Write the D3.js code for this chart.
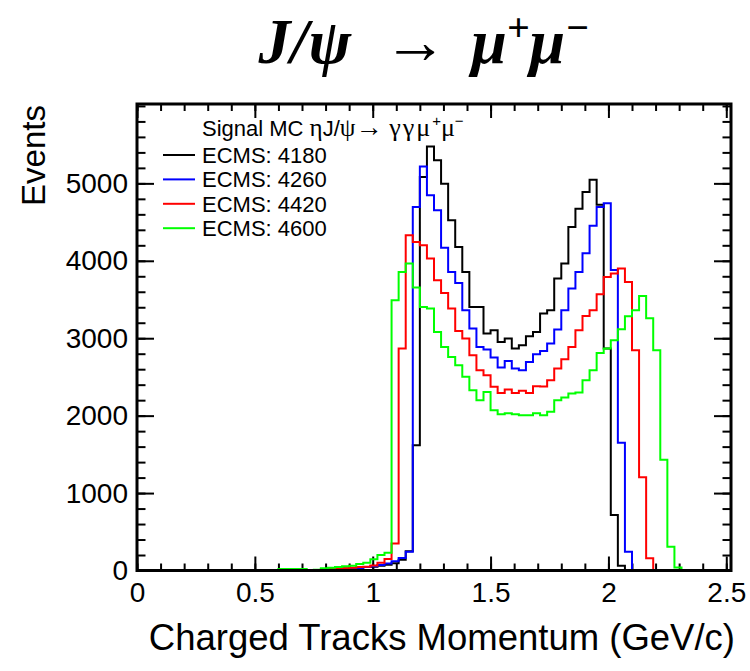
<!DOCTYPE html>
<html>
<head>
<meta charset="utf-8">
<script src="https://cdn.jsdelivr.net/npm/d3@7"></script>
<style>
  body { margin: 0; background: #fff; }
  .axis text { font-family: "Liberation Sans", Arial, sans-serif; font-size: 28px; fill: #000; }
  .axis line { stroke: #000; stroke-width: 2; }
</style>
</head>
<body>
<script>
// histogram axis: 84 bins of 0.03 GeV/c from 0 to 2.52
var histMin = 0, histMax = 2.52, nBins = 84;
var firstBin = 20; // arrays below start at this bin

// bin contents, bins 20..78
var ecms4180 = [0,0,0,0,5,5,10,15,25,25,
                30,40,45,50,60,75,95,140,250,1619,
                5081,5477,5297,4996,4523,4178,3855,3404,3404,3061,
                3103,2952,2996,2867,2910,3026,3081,3319,3361,3770,
                3964,4436,4673,4888,5048,4725,2867,716,60,0,
                0,0,0,0,0,0,0,0,0];
var ecms4260 = [0,0,0,0,0,0,5,10,15,15,
                25,30,45,55,70,90,120,160,243,4694,
                5219,4845,4652,4170,3855,3714,3361,3125,2888,2854,
                2751,2622,2707,2609,2587,2694,2794,2836,2932,3112,
                3361,3641,3855,4097,4453,4694,4742,3880,1649,243,
                0,0,0,0,0,0,0,0,0];
var ecms4420 = [0,0,0,5,8,8,10,20,25,30,
                35,45,50,65,100,150,350,2867,4329,4243,
                4200,4028,3748,3585,3383,3094,2996,2781,2587,2523,
                2372,2294,2338,2294,2320,2294,2381,2376,2458,2609,
                2729,2888,3103,3288,3361,3568,3791,3835,3900,3727,
                2845,1205,157,0,0,0,0,0,0];
var ecms4600 = [20,20,20,20,8,10,30,35,45,55,
                60,85,100,145,200,230,3490,3855,3964,3654,
                3404,3383,3081,2888,2759,2652,2501,2329,2200,2307,
                2071,2019,2030,2019,2006,2006,2030,2006,2049,2200,
                2235,2286,2299,2458,2587,2810,2867,2974,3116,3284,
                3361,3546,3258,2845,1430,307,38,0,0];

var seriesNames = ["ECMS: 4180", "ECMS: 4260", "ECMS: 4420", "ECMS: 4600"];
var seriesData = [ecms4180, ecms4260, ecms4420, ecms4600];
var seriesColors = ["#000000", "#0000ff", "#ff0000", "#00ff00"];

var xMajor = [0, 0.5, 1, 1.5, 2, 2.5];
var yMajor = [0, 1000, 2000, 3000, 4000, 5000];
var yMax = 6025;

var svgWidth = 750, svgHeight = 671;
var frameL = 137, frameR = 731, frameT = 104, frameB = 570.5;

var xScale = d3.scaleLinear().domain([histMin, histMax]).range([frameL, frameR]);
var yScale = d3.scaleLinear().domain([0, yMax]).range([frameB, frameT]);

var svg = d3.select("body").append("svg")
    .attr("width", svgWidth)
    .attr("height", svgHeight);

svg.append("rect").attr("width", svgWidth).attr("height", svgHeight).attr("fill", "#fff");

var binW = (histMax - histMin) / nBins;
var xMinor = d3.range(0, 26).map(function(i) { return i / 10; });
var yMinor = d3.range(0, 31).map(function(i) { return i * 200; });

function noDomain(g) { g.select(".domain").remove(); }

// bottom axis, ticks pointing up
svg.append("g").attr("class", "axis")
    .attr("transform", "translate(0," + frameB + ")")
    .call(d3.axisBottom(xScale).tickValues(xMinor).tickSize(-7).tickFormat(""))
    .call(noDomain);
svg.append("g").attr("class", "axis")
    .attr("transform", "translate(0," + frameB + ")")
    .call(d3.axisBottom(xScale).tickValues(xMajor).tickSize(-14).tickPadding(12)
          .tickFormat(function(d) { return d; }))
    .call(noDomain);

// top axis
svg.append("g").attr("class", "axis")
    .attr("transform", "translate(0," + frameT + ")")
    .call(d3.axisTop(xScale).tickValues(xMinor).tickSize(-7).tickFormat(""))
    .call(noDomain);
svg.append("g").attr("class", "axis")
    .attr("transform", "translate(0," + frameT + ")")
    .call(d3.axisTop(xScale).tickValues(xMajor).tickSize(-14).tickFormat(""))
    .call(noDomain);

// left axis
svg.append("g").attr("class", "axis")
    .attr("transform", "translate(" + frameL + ",0)")
    .call(d3.axisLeft(yScale).tickValues(yMinor).tickSize(-8.5).tickFormat(""))
    .call(noDomain);
svg.append("g").attr("class", "axis")
    .attr("transform", "translate(" + frameL + ",0)")
    .call(d3.axisLeft(yScale).tickValues(yMajor).tickSize(-17).tickPadding(9)
          .tickFormat(function(d) { return d; }))
    .call(noDomain);

// right axis
svg.append("g").attr("class", "axis")
    .attr("transform", "translate(" + frameR + ",0)")
    .call(d3.axisRight(yScale).tickValues(yMinor).tickSize(-8.5).tickFormat(""))
    .call(noDomain);
svg.append("g").attr("class", "axis")
    .attr("transform", "translate(" + frameR + ",0)")
    .call(d3.axisRight(yScale).tickValues(yMajor).tickSize(-17).tickFormat(""))
    .call(noDomain);

// histograms as step outlines
var line = d3.line()
    .x(function(d) { return xScale(d[0]); })
    .y(function(d) { return yScale(d[1]); })
    .curve(d3.curveStepAfter);

seriesData.forEach(function(vals, s) {
  var pts = [[histMin + firstBin * binW, 0]];
  vals.forEach(function(v, i) {
    pts.push([histMin + (firstBin + i) * binW, v]);
  });
  pts.push([histMin + (firstBin + vals.length) * binW, vals[vals.length - 1]]);
  svg.append("path")
     .attr("d", line(pts))
     .attr("fill", "none")
     .attr("stroke", seriesColors[s])
     .attr("stroke-width", 2);
});

// frame
svg.append("rect")
   .attr("x", frameL).attr("y", frameT)
   .attr("width", frameR - frameL).attr("height", frameB - frameT)
   .attr("fill", "none").attr("stroke", "#000").attr("stroke-width", 3);

// legend
var sans = "'Liberation Sans', Arial, sans-serif";
var serif = "'Liberation Serif', 'Times New Roman', serif";
var head = svg.append("text")
   .attr("x", 202).attr("y", 136)
   .attr("font-family", sans).attr("font-size", 22);
head.append("tspan").text("Signal MC ");
head.append("tspan").attr("font-family", serif).attr("font-size", 25).text("\u03b7");
head.append("tspan").text("J/");
head.append("tspan").attr("font-family", serif).attr("font-size", 25).text("\u03c8");
head.append("tspan").attr("font-family", serif).attr("font-size", 27).text("\u2192 ");
head.append("tspan").attr("font-family", serif).attr("font-size", 26)
    .attr("letter-spacing", 2).text("\u03b3\u03b3\u03bc");
head.append("tspan").attr("font-size", 15).attr("dy", -10).text("+");
head.append("tspan").attr("font-family", serif).attr("font-size", 26).attr("dy", 10).text("\u03bc");
head.append("tspan").attr("font-size", 15).attr("dy", -10).text("\u2212");

seriesNames.forEach(function(name, i) {
  var yy = 155 + i * 24.4;
  svg.append("line")
     .attr("x1", 163).attr("x2", 195).attr("y1", yy).attr("y2", yy)
     .attr("stroke", seriesColors[i]).attr("stroke-width", 2);
  svg.append("text")
     .attr("x", 202).attr("y", yy + 8)
     .attr("font-family", sans).attr("font-size", 22)
     .text(name);
});

// axis titles
svg.append("text")
   .attr("x", 735).attr("y", 650)
   .attr("text-anchor", "end")
   .attr("font-family", sans).attr("font-size", 36.5)
   .text("Charged Tracks Momentum (GeV/c)");

svg.append("text")
   .attr("transform", "translate(45,105) rotate(-90)")
   .attr("text-anchor", "end")
   .attr("font-family", sans).attr("font-size", 33)
   .text("Events");

// title
var title = svg.append("text")
   .attr("x", 424).attr("y", 63)
   .attr("text-anchor", "middle")
   .attr("font-family", serif).attr("font-size", 64)
   .attr("font-weight", "bold").attr("font-style", "italic");
title.append("tspan").text("J/\u03c8");
title.append("tspan").attr("dx", 32).attr("font-weight", "normal").attr("font-style", "normal").text("\u2192");
title.append("tspan").attr("dx", 24).text("\u03bc");
title.append("tspan").attr("font-size", 40).attr("dy", -22).text("+");
title.append("tspan").attr("dy", 22).text("\u03bc");
title.append("tspan").attr("font-size", 40).attr("dy", -22).text("\u2212");
</script>
</body>
</html>
